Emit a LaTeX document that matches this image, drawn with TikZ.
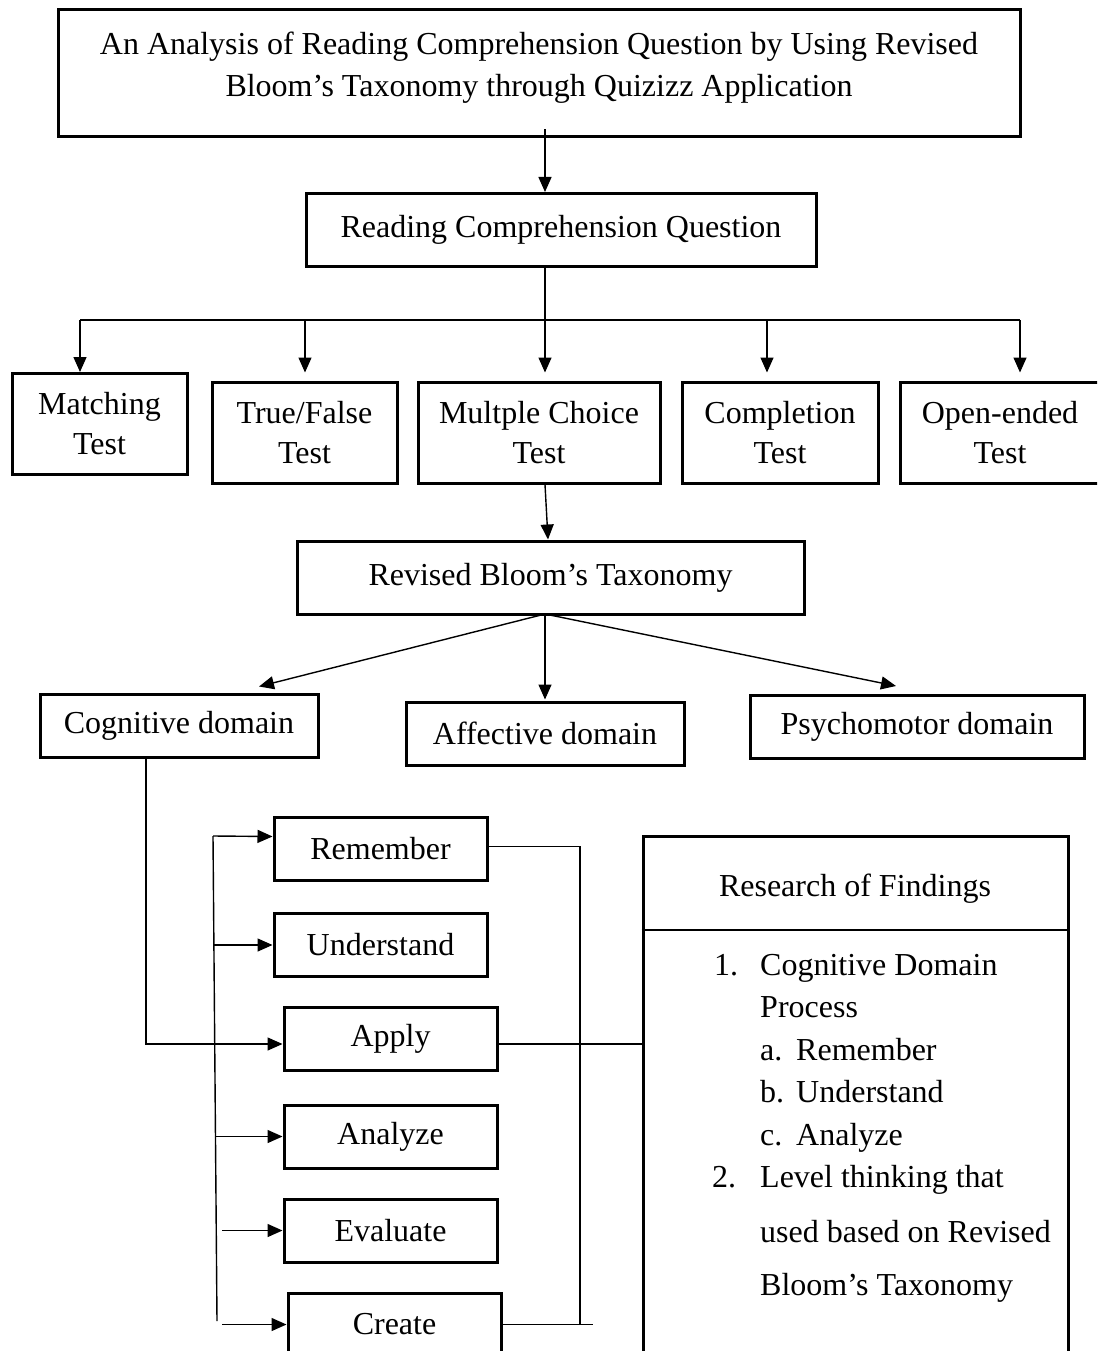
\documentclass[tikz,border=0pt]{standalone}
\usepackage{fontspec}
\setmainfont{Liberation Serif}
\usetikzlibrary{arrows.meta}

\begin{document}
\begin{tikzpicture}
[x=1pt,y=-1pt,
  boxdecorate/.style={shape=rectangle,draw,line width=3pt,inner sep=0pt,
    minimum height=63pt,align=center,font=\fontsize{32}{40}\selectfont},%
  linedecorate/.style={-,line width=1.4pt},%
  arrowdecorate/.style={line width=1.4pt,-{Triangle[length=15pt,width=13pt]}},%
  listdecorate/.style={anchor=west,inner sep=0pt,font=\fontsize{32}{40}\selectfont,
    text height=22pt,text depth=7pt}]
\useasboundingbox (0,0) rectangle (1097,1351);
\clip (0,0) rectangle (1097,1351);
%% title and question
\node (title) at (539,73.5) [boxdecorate,minimum width=962pt,minimum height=127pt] {};
\node (titletext) at (539,68) [align=center,font=\fontsize{32}{42}\selectfont]
  {An Analysis of Reading Comprehension Question by Using Revised\\
   Bloom’s Taxonomy through Quizizz Application};
\node (rcq) at (561,230) [boxdecorate,minimum width=510pt,minimum height=73pt]
  {Reading Comprehension Question};
\draw[arrowdecorate] ([xshift=6pt,yshift=9pt]title.south) -- ([xshift=-16pt]rcq.north);
%% kinds of test
\foreach \nodename/\x/\y/\w/\txt in {match/99.5/424/175/{Matching\\Test},
  tf/304.5/432.5/185/{True/False\\Test}, mc/539/432.5/242/{Multple Choice\\Test},
  comp/780/432.5/196/{Completion\\Test}, open/1000/432.5/200/{Open-ended\\Test}}
{
  \node (\nodename) at (\x,\y) [boxdecorate,minimum width=\w pt,minimum height=101pt] {\txt};
}
\draw[linedecorate] ([xshift=-16pt]rcq.south) -- (545,320);
\draw[linedecorate] (80,320) -- (1020,320);
\foreach \nodename/\x/\gap in {match/80/0, tf/305/8, mc/545/8, comp/767/8, open/1020/8}
{
  \coordinate (drop\nodename) at (\x,320);
  \draw[arrowdecorate,shorten >=\gap pt] (drop\nodename) -- (drop\nodename |- \nodename.north);
}
%% taxonomy and domains
\node (rbt) at (550.5,577.5) [boxdecorate,minimum width=507pt,minimum height=73pt]
  {Revised Bloom’s Taxonomy};
\draw[arrowdecorate] ([xshift=6pt]mc.south) -- ([xshift=-2.5pt]rbt.north);
\node (cog) at (179,725.5) [boxdecorate,minimum width=278pt] {Cognitive domain};
\node (aff) at (545,733.5) [boxdecorate,minimum width=278pt] {Affective domain};
\node (psy) at (917,727) [boxdecorate,minimum width=334pt] {Psychomotor domain};
\coordinate (fork) at (545,614);
\draw[arrowdecorate] (fork) -- ([xshift=80pt,yshift=6pt]cog.north);
\draw[arrowdecorate] (fork) -- ([yshift=1pt]aff.north);
\draw[arrowdecorate] (fork) -- ([xshift=-21pt,yshift=8pt]psy.north);
%% cognitive levels
\foreach \nodename/\x/\y/\txt in {rem/380.5/848.5/Remember, und/380.5/945/Understand,
  app/390.5/1039/Apply, ana/390.5/1136.5/Analyze, eva/390.5/1230.5/Evaluate,
  cre/394.5/1324.5/Create}
{
  \node (\nodename) at (\x,\y) [boxdecorate,minimum width=213pt] {\txt};
}
\draw[arrowdecorate] ([xshift=-33pt]cog.south) |- ([yshift=-5pt]app.west);
\draw[linedecorate] (213,836) -- (217,1321);
\draw[arrowdecorate] (213,836) -- ([yshift=12pt]rem.west);
\foreach \nodename/\x in {und/214, ana/215, eva/222, cre/222}
{
  \draw[arrowdecorate] (\x,0 |- \nodename.west) -- (\nodename.west);
}
\coordinate (brright) at (580,0);
\draw[linedecorate] ([yshift=2pt]rem.east) -| (brright |- cre.east);
\draw[linedecorate] (cre.east) -- ([xshift=13pt]brright |- cre.east);
%% findings
\node (find) at (855.5,1103) [boxdecorate,minimum width=425pt,minimum height=534pt] {};
\draw[linedecorate] (find.west |- 0,930) -- (find.east |- 0,930);
\node (findhead) at (855,889) [font=\fontsize{32}{40}\selectfont] {Research of Findings};
\draw[linedecorate] ([yshift=-5pt]app.east) -- ([yshift=-5pt]app.east -| find.west);
\foreach \x/\y/\txt in {714/968/1., 760/968/Cognitive Domain, 760/1010/Process,
  760/1053/a., 796/1053/Remember, 760/1095/b., 796/1095/Understand,
  760/1138/c., 796/1138/Analyze, 712/1180/2., 760/1180/Level thinking that,
  760/1235/used based on Revised, 760/1288/Bloom’s Taxonomy}
{
  \node at (\x,\y) [listdecorate] {\txt};
}
\end{tikzpicture}
\end{document}
